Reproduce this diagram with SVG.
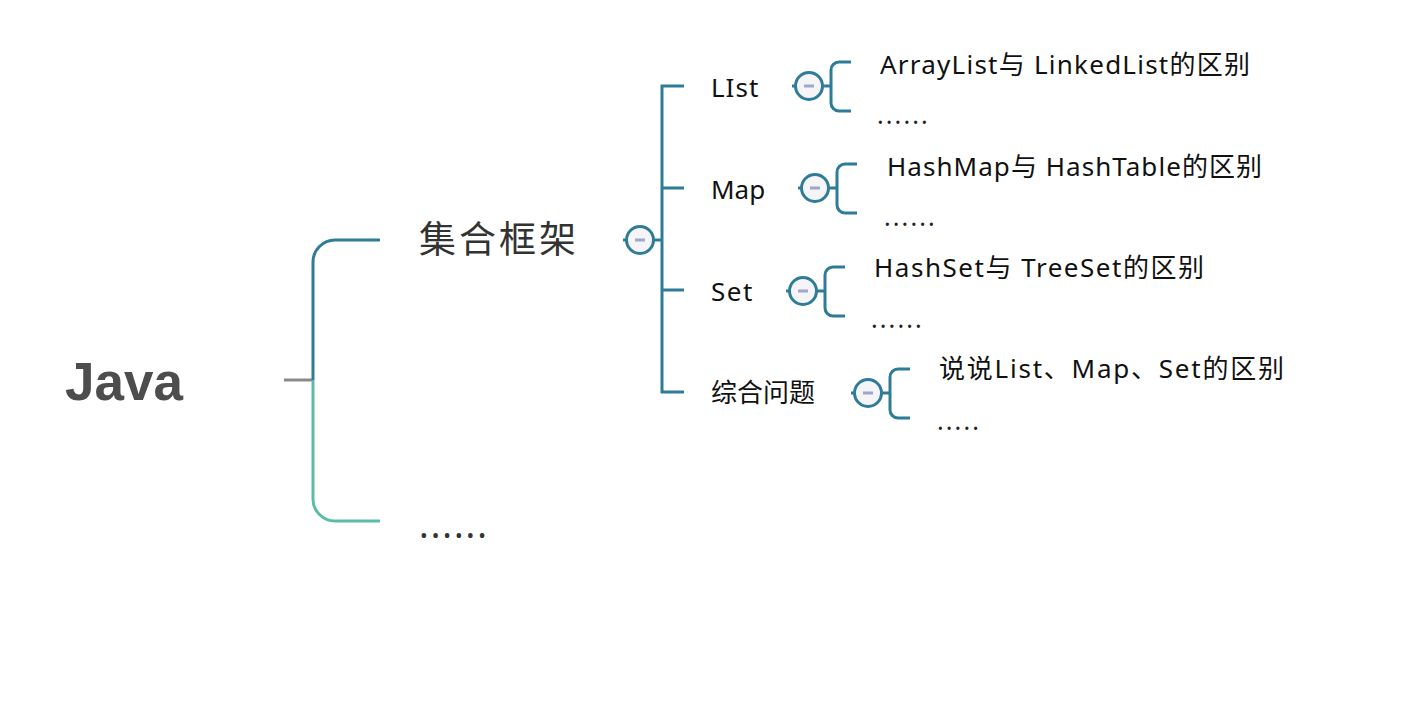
<svg xmlns="http://www.w3.org/2000/svg" width="1416" height="710" viewBox="0 0 1416 710">
<style>
.blue{fill:none;stroke:#2f7c98;stroke-width:3}
.green{fill:none;stroke:#5bbca8;stroke-width:3}
.gray{fill:none;stroke:#8a8a8a;stroke-width:3}
.btn circle{fill:#f5f5f8;stroke:#2f7c98;stroke-width:3}
.btn rect{fill:#a0a7cf}
.lbl{font-family:"Noto Sans","Noto Sans CJK SC",sans-serif;font-size:26px;fill:#111}
.leaf{font-family:"Noto Sans","Noto Sans CJK SC",sans-serif;font-size:26px;fill:#111}
.dots{font-family:"Noto Sans",sans-serif;font-size:25px;fill:#222;letter-spacing:2.1px}
</style>
<rect width="1416" height="710" fill="#ffffff"/>
<g id="connectors">
<line class="gray" x1="284" y1="380" x2="313" y2="380"/>
<path class="blue" d="M380,240 H335 A22,22 0 0 0 313,262 V380"/>
<path class="green" d="M313,380 V499 A22,22 0 0 0 335,521 H380"/>
<line class="blue" x1="623" y1="240" x2="627" y2="240"/>
<line class="blue" x1="653" y1="240" x2="662" y2="240"/>
<path class="blue" d="M684,86 H662 V392 H684 M662,188 H684 M662,290 H684"/>
<path class="blue" d="M792,86 H796 M822,86 H831 M851,62 H839 A8,8 0 0 0 831,70 V103 A8,8 0 0 0 839,111 H851"/>
<path class="blue" d="M798,188 H802 M828,188 H837 M857,164 H845 A8,8 0 0 0 837,172 V205 A8,8 0 0 0 845,213 H857"/>
<path class="blue" d="M786,291 H790 M816,291 H825 M845,267 H833 A8,8 0 0 0 825,275 V308 A8,8 0 0 0 833,316 H845"/>
<path class="blue" d="M851,393 H855 M881,393 H890 M910,369 H898 A8,8 0 0 0 890,377 V410 A8,8 0 0 0 898,418 H910"/>
</g>
<g id="node-java">
<text x="65" y="400" font-family="Liberation Sans, Arial, sans-serif" font-weight="bold" font-size="53" fill="#4d4d4d">Java</text>
</g>
<g id="node-jihe">
<text x="419" y="253" font-family="Noto Sans CJK SC, sans-serif" font-size="37" letter-spacing="3" fill="#333">集合框架</text>
<g class="btn"><circle cx="640" cy="240" r="13.5"/><rect x="635" y="238.5" width="10" height="3"/></g>
</g>
<g id="node-more">
<text x="419" y="537.5" font-family="Noto Sans, sans-serif" font-size="36" letter-spacing="2" fill="#333">......</text>
</g>
<g id="node-list">
<text class="lbl" x="711" y="97" letter-spacing="1">LIst</text>
<g class="btn"><circle cx="809" cy="86" r="13.5"/><rect x="804" y="84.5" width="10" height="3"/></g>
</g>
<g id="node-map">
<text class="lbl" x="711" y="199">Map</text>
<g class="btn"><circle cx="815" cy="188" r="13.5"/><rect x="810" y="186.5" width="10" height="3"/></g>
</g>
<g id="node-set">
<text class="lbl" x="711" y="301" letter-spacing="1.5">Set</text>
<g class="btn"><circle cx="803" cy="291" r="13.5"/><rect x="798" y="289.5" width="10" height="3"/></g>
</g>
<g id="node-zonghe">
<text class="lbl" x="711" y="402">综合问题</text>
<g class="btn"><circle cx="868" cy="393" r="13.5"/><rect x="863" y="391.5" width="10" height="3"/></g>
</g>
<g id="leaf-list-1"><text class="leaf" x="880" y="74" textLength="370" lengthAdjust="spacing">ArrayList与 LinkedList的区别</text></g>
<g id="leaf-list-2"><text class="dots" x="877" y="124">......</text></g>
<g id="leaf-map-1"><text class="leaf" x="887" y="176" textLength="375" lengthAdjust="spacing">HashMap与 HashTable的区别</text></g>
<g id="leaf-map-2"><text class="dots" x="884" y="226">......</text></g>
<g id="leaf-set-1"><text class="leaf" x="874" y="277" textLength="330" lengthAdjust="spacing">HashSet与 TreeSet的区别</text></g>
<g id="leaf-set-2"><text class="dots" x="871" y="328">......</text></g>
<g id="leaf-zonghe-1"><text class="leaf" x="939" y="378" textLength="345" lengthAdjust="spacing">说说List、Map、Set的区别</text></g>
<g id="leaf-zonghe-2"><text class="dots" x="937" y="430">.....</text></g>
</svg>
